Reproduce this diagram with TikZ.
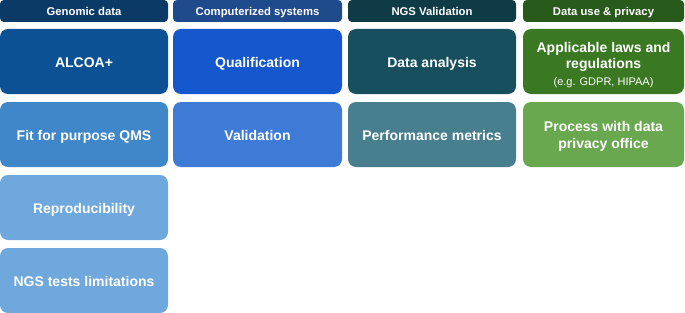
\documentclass[tikz,border=0pt]{standalone}
\usepackage{fontspec}
\setmainfont{Liberation Sans}
\definecolor{hA}{HTML}{0B3A66}
\definecolor{hB}{HTML}{1F4A8C}
\definecolor{hC}{HTML}{0F3B47}
\definecolor{hD}{HTML}{285A1C}
\definecolor{bA1}{HTML}{0C5194}
\definecolor{bB1}{HTML}{1557CC}
\definecolor{bC1}{HTML}{174F5E}
\definecolor{bD1}{HTML}{3A7822}
\definecolor{bA2}{HTML}{3F87C9}
\definecolor{bB2}{HTML}{3E7BD6}
\definecolor{bC2}{HTML}{477F8E}
\definecolor{bD2}{HTML}{6AA84F}
\definecolor{bA3}{HTML}{6FA8DC}
\newcommand{\mystrut}[1]{\rule{0pt}{#1}}
\tikzset{
  hdr/.style={rectangle, rounded corners=4pt, minimum height=22pt, inner sep=0pt,
    text height=9pt, text depth=0pt,
    text=white, font=\bfseries\fontsize{11.3}{13}\selectfont},
  cellbase/.style={rectangle, rounded corners=8pt, minimum height=65pt, inner sep=0pt,
    text=white, align=center, font=\bfseries\fontsize{14}{16.5}\selectfont},
  cell/.style={cellbase, text height=12pt, text depth=0pt},
}
\begin{document}
\begin{tikzpicture}[x=1pt,y=-1pt]
\useasboundingbox (0,0) rectangle (685,313);
% headers
\node[hdr, fill=hA, minimum width=168pt] (h1) at (84,11) {Genomic data};
\node[hdr, fill=hB, minimum width=169pt] (h2) at (257.5,11) {Computerized systems};
\node[hdr, fill=hC, minimum width=168pt] (h3) at (432,11) {NGS Validation};
\node[hdr, fill=hD, minimum width=161pt] (h4) at (603.5,11) {Data use \& privacy};
% row 1
\node[cell, fill=bA1, minimum width=168pt] (a1) at (84,61.5) {ALCOA+};
\node[cell, fill=bB1, minimum width=169pt] (b1) at (257.5,61.5) {Qualification};
\node[cell, fill=bC1, minimum width=168pt] (c1) at (432,61.5) {Data analysis};
\node[cellbase, fill=bD1, minimum width=161pt] (d1) at (603.5,61.5) {\mystrut{17pt}Applicable laws and\\regulations\\[0.5pt]{\mdseries\fontsize{11}{13}\selectfont (e.g. GDPR, HIPAA)}};
% row 2
\node[cell, fill=bA2, minimum width=168pt] (a2) at (84,134.5) {Fit for purpose QMS};
\node[cell, fill=bB2, minimum width=169pt] (b2) at (257.5,134.5) {Validation};
\node[cell, fill=bC2, minimum width=168pt] (c2) at (432,134.5) {Performance metrics};
\node[cellbase, fill=bD2, minimum width=161pt] (d2) at (603.5,134.5) {\mystrut{14pt}Process with data\\privacy office};
% rows 3-4
\node[cell, fill=bA3, minimum width=168pt] (a3) at (84,207.5) {Reproducibility};
\node[cell, fill=bA3, minimum width=168pt] (a4) at (84,280.5) {NGS tests limitations};
\end{tikzpicture}
\end{document}
